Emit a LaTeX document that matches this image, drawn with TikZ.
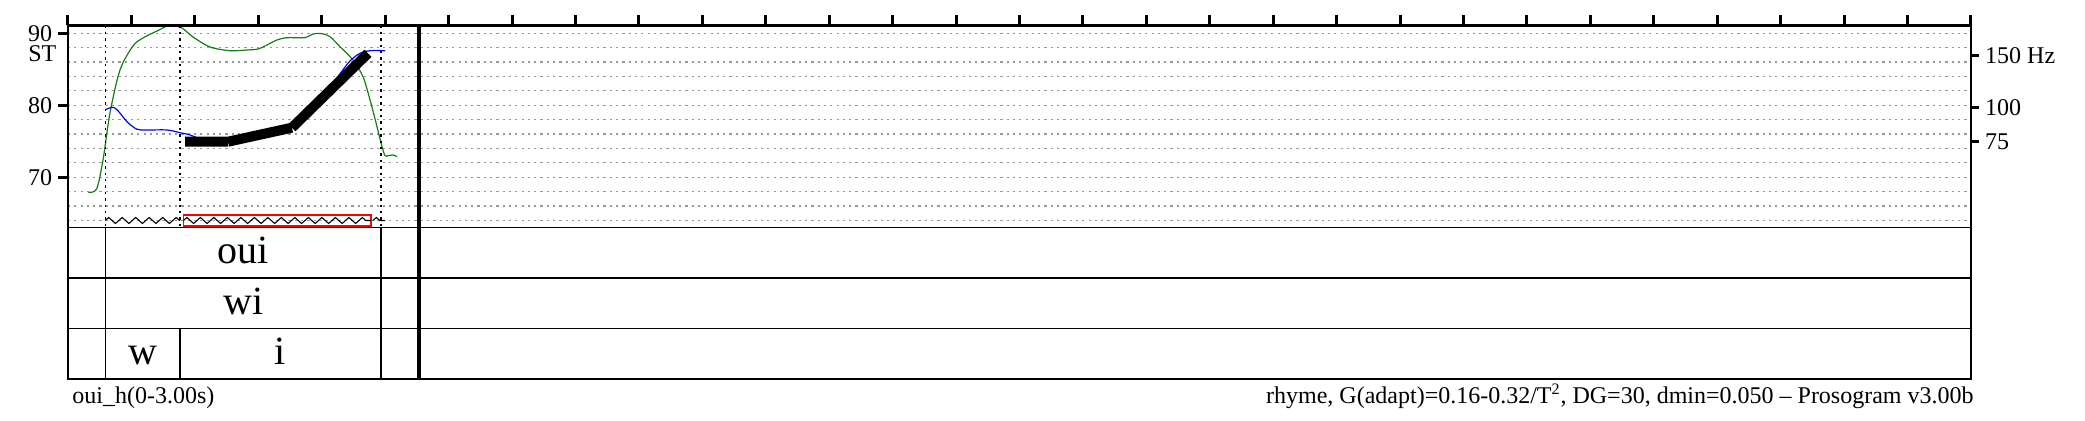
\documentclass[tikz,border=0pt]{standalone}
\usepackage{fontspec}
\setmainfont{Liberation Serif}
\usetikzlibrary{decorations.pathmorphing}
\definecolor{intens}{RGB}{20,125,20}
\tikzset{
  frame/.style={line width=1.3pt},
  tierline/.style={line width=0.75pt},
  gridline/.style={gray!80, line width=0.6pt, dash pattern=on 1.1pt off 2.05pt},
  bound/.style={line width=0.7pt, dash pattern=on 1.2pt off 2pt},
  zz/.style={decorate, decoration={zigzag, segment length=6.75pt, amplitude=1.5pt}, line width=0.55pt},
  stylized/.style={line width=5pt},
  lab/.style={font=\fontsize{12}{14}\selectfont, inner sep=0pt},
  tiertext/.style={font=\fontsize{20}{24}\selectfont, inner sep=0pt, anchor=base},
}
\begin{document}
\begin{tikzpicture}[x=317.15pt, y=3.6pt]
\useasboundingbox (-0.1072,36.29) rectangle (3.1799,94.625);
\foreach \s in {64,66,...,90}
  \draw[gridline] (0,\s) -- (3,\s);
\draw[intens, line width=0.6pt] plot[smooth, tension=0.5] coordinates {
  (0.0320,67.92) (0.0452,68.38) (0.0552,72.40) (0.0662,78.93) (0.0820,84.90)
  (0.1025,88.24) (0.1182,89.35) (0.1403,90.32) (0.1561,91.00) (0.1655,91.08)
  (0.1797,90.74) (0.1971,89.49) (0.2239,88.10) (0.2554,87.58) (0.2822,87.68)
  (0.2995,87.82) (0.3137,88.38) (0.3295,89.07) (0.3453,89.39) (0.3736,89.39)
  (0.3862,89.90) (0.4004,89.94) (0.4131,89.53) (0.4289,88.14) (0.4493,86.29)
  (0.4651,83.97) (0.4762,80.74) (0.4872,77.03) (0.4951,74.25) (0.4998,73.00)
  (0.5045,73.00) (0.5124,73.10) (0.5187,72.86)};
\draw[blue, line width=0.6pt] plot[smooth, tension=0.5] coordinates {
  (0.0599,79.44) (0.0709,79.72) (0.0788,79.25) (0.0930,77.72) (0.1088,76.67)
  (0.1245,76.57) (0.1561,76.57) (0.1766,76.19) (0.1923,75.88) (0.2200,75.00)
  (0.2522,75.00) (0.3000,75.90) (0.3531,77.00) (0.4000,81.00) (0.4414,85.83)
  (0.4604,87.22) (0.4761,87.58) (0.4998,87.58)};
\path (0.1845,74.94) coordinate (s0) (0.2522,74.94) coordinate (s1)
  (0.3531,76.89) coordinate (s2) (0.4730,87.22) coordinate (s3);
\draw[stylized] (s0) -- (s1) (s1) -- (s2) (s2) -- (s3);
\foreach \t in {0.0588,0.1766,0.4935}
  \draw[bound] (\t,91.1) -- (\t,63);
\draw[red, line width=0.6pt] (0.1821,63.24) rectangle (0.4777,64.76);
\draw[zz] (0.0588,64) -- (0.1766,64);
\draw[zz] (0.1821,64) -- (0.4777,64);
\draw[zz] (0.4808,64) -- (0.4998,64);
\draw[tierline] (0,63) -- (3,63) (0,56) -- (3,56) (0,49) -- (3,49);
\draw[tierline] (0.0588,63) -- (0.0588,42) (0.4935,63) -- (0.4935,42)
  (0.1766,49) -- (0.1766,42);
\node[tiertext] (word) at (0.2762,58.0) {oui};
\node[tiertext] (syll) at (0.2762,51.0) {wi};
\node[tiertext] (phw) at (0.1177,44.0) {w};
\node[tiertext] (phi) at (0.3351,44.0) {i};
\draw[line width=2.2pt] (0.5538,91.1) -- (0.5538,42);
\draw[frame] (0,42) rectangle (3,91.1);
\foreach \i in {0,...,30}
  \draw[line width=1.5pt] ({\i/10},91.1) -- ++(0,1.4);
\foreach \s in {70,80,90}
  \draw[frame] (0,\s) -- ++(-5pt,0) node[lab, anchor=east, xshift=-2.3pt] (st\s) {\s};
\node[lab, anchor=north east] (stunit) at ([xshift=1.7pt,yshift=-1.4pt]st90.south east) {ST};
\foreach \s/\f [count=\k] in {86.9/150 Hz,79.7/100,75.0/75}
  \draw[frame] (3,\s) -- ++(4pt,0) node[lab, anchor=west, xshift=2.5pt] (hz\k) {\f};
\node[lab, anchor=base west] (file) at (0.0063,38.6) {oui\_h(0-3.00s)};
\node[lab, anchor=base east] (param) at (3.005,38.6)
  {rhyme, G(adapt)=0.16-0.32/T\textsuperscript{2}, DG=30, dmin=0.050 -- Prosogram v3.00b};
\end{tikzpicture}
\end{document}
